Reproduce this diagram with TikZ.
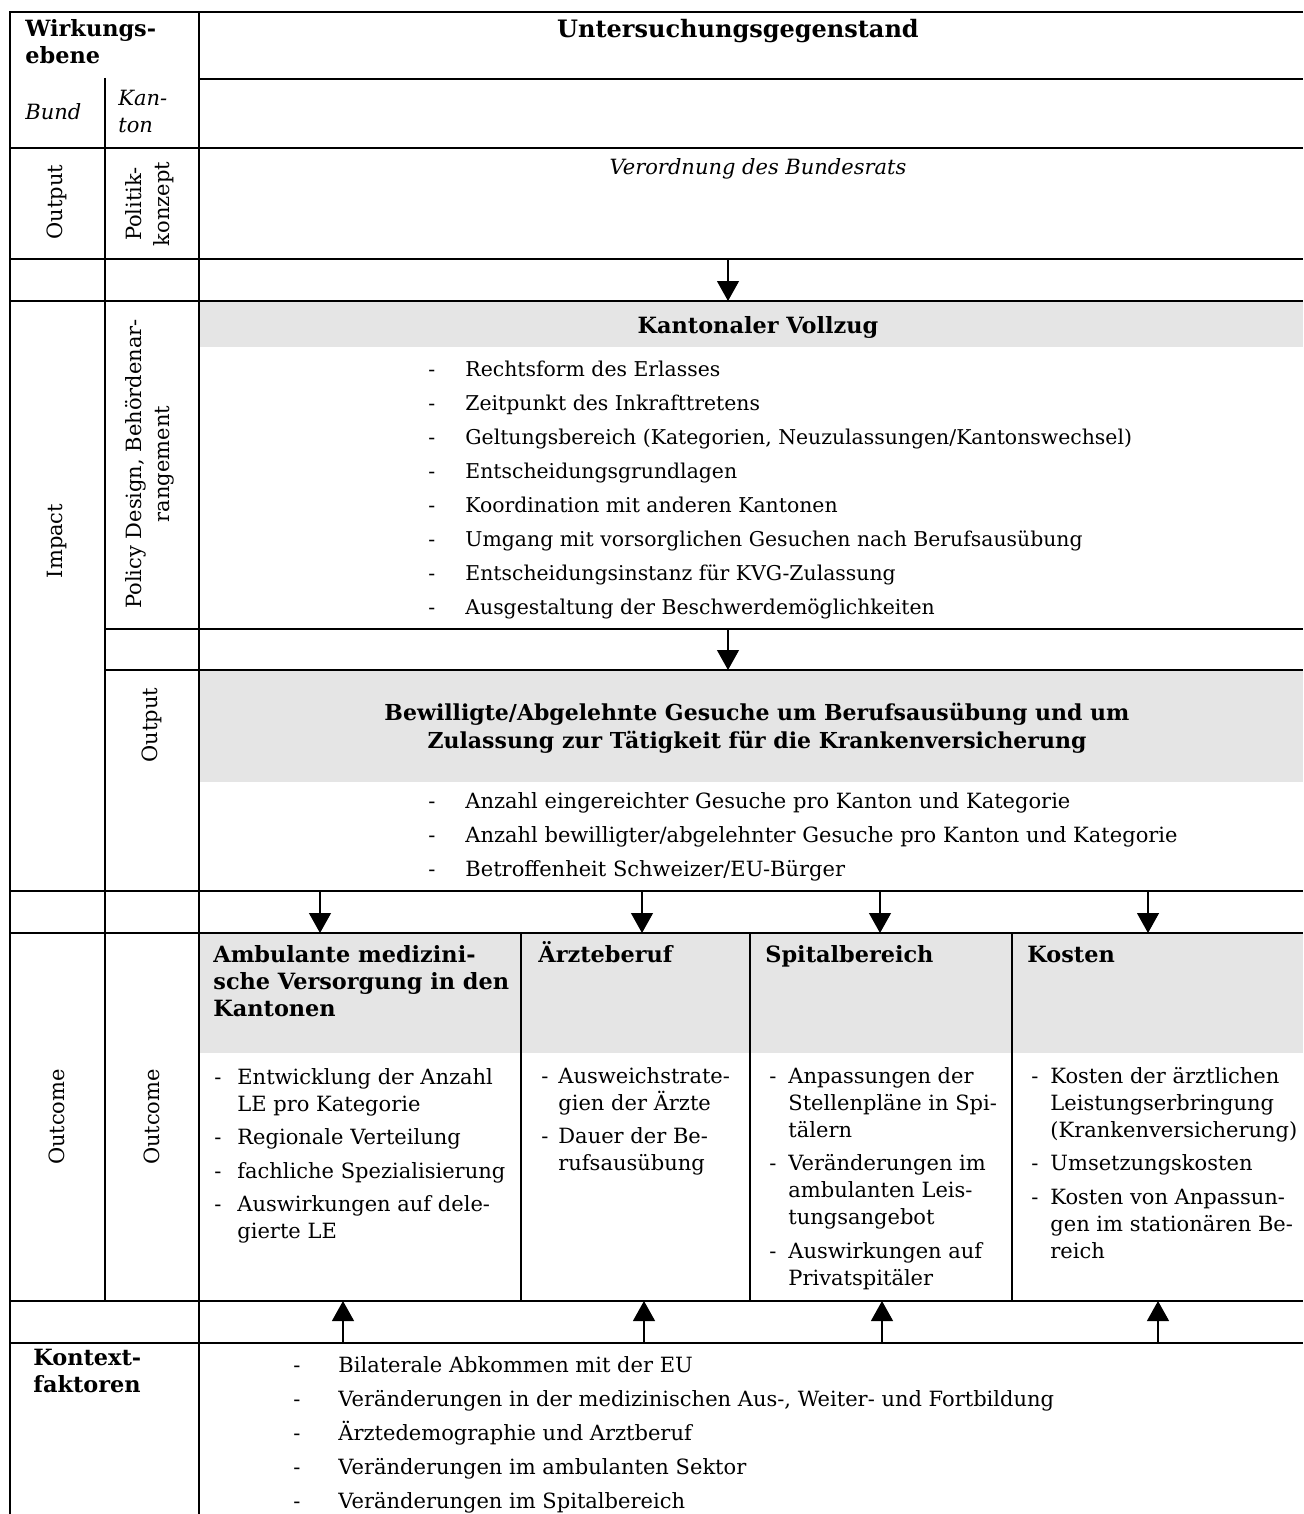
\documentclass[tikz,border=0pt]{standalone}
\usepackage{fontspec}
\setmainfont{DejaVu Serif}
\usetikzlibrary{arrows.meta}

% stacked lines, baseline at the first line
\newcommand\stk[2][l]{\begin{tabular}[t]{@{}#1@{}}#2\end{tabular}}
% list with dash column of width #1
\newcommand\dashlist[2]{\begin{tabular}[t]{@{}p{#1}@{}l@{}}#2\end{tabular}}

\begin{document}
\begin{tikzpicture}[x=0.5pt, y=-0.5pt,
    rule/.style={line width=1pt},
    band/.style={fill=black!10, draw=none, inner sep=0pt, anchor=north west},
    arr/.style={line width=0.6pt, -{Triangle[width=11pt,length=10pt]}},
    txt/.style={inner sep=0pt, anchor=base west, font=\fontsize{10.5}{13.5}\selectfont},
    ctxt/.style={txt, anchor=base},
    hd/.style={txt, font=\fontsize{11.2}{13.5}\selectfont\bfseries},
    chd/.style={hd, anchor=base},
    rot/.style={inner sep=0pt, rotate=90, align=center, font=\fontsize{10.5}{14}\selectfont},
    bigl/.style={txt, font=\fontsize{10.5}{17}\selectfont}]
  \useasboundingbox (0,0) rectangle (1303,1514);

  % grey bands
  \node[band, minimum width=552pt, minimum height=23pt] (vollzug) at (199,301) {};
  \node[band, minimum width=552pt, minimum height=56pt] (gesuche) at (199,670) {};
  \node[band, minimum width=161pt, minimum height=60pt] (ambulant) at (199,933) {};
  \node[band, minimum width=114.5pt, minimum height=60pt] (aerzte) at (521,933) {};
  \node[band, minimum width=131pt, minimum height=60pt] (spital) at (750,933) {};
  \node[band, minimum width=145.5pt, minimum height=60pt] (kosten) at (1012,933) {};

  % table rules
  \draw[rule] (1303,12) -- (10,12) -- (10,1514);
  \draw[rule] (199,12) -- (199,1514);
  \draw[rule] (105,78) -- (105,1301);
  \draw[rule] (199,79) -- (1303,79);
  \foreach \y in {148,259,301,891,933,1301,1343}
    \draw[rule] (10,\y) -- (1303,\y);
  \foreach \y in {629,670}
    \draw[rule] (105,\y) -- (1303,\y);
  \foreach \x in {521,750,1012}
    \draw[rule] (\x,933) -- (\x,1301);

  % left columns
  \node[hd] (wirkung) at (25,37) {\stk{Wirkungs-\\ebene}};
  \node[txt] (bund) at (25,120) {\itshape Bund};
  \node[txt] (kanton) at (118,106) {\itshape\stk{Kan-\\ton}};
  \node[rot] (outbund) at (57,202) {Output};
  \node[rot] (konzept) at (150,204) {Politik-\\konzept};
  \node[rot] (impact) at (57,541) {Impact};
  \node[rot] (design) at (150,464) {Policy Design, Behördenar-\\rangement};
  \node[rot] (outkanton) at (152,725) {Output};
  \node[rot] (outcbund) at (57,1117) {Outcome};
  \node[rot] (outckanton) at (152,1117) {Outcome};
  \node[hd] (kontext) at (33,1365) {\stk{Kontext-\\faktoren}};

  % main column
  \node[chd, font=\fontsize{12}{14}\selectfont\bfseries] (gegenstand) at (738,38) {Untersuchungsgegenstand};
  \node[ctxt] (verordnung) at (758,175) {\itshape Verordnung des Bundesrats};
  \node[chd] (vollzugtxt) at (758,333) {Kantonaler Vollzug};
  \node[bigl, font=\fontsize{10.2}{17}\selectfont] (vollzuglist) at (428,376) {\dashlist{18.5pt}{%
    - & Rechtsform des Erlasses\\
    - & Zeitpunkt des Inkrafttretens\\
    - & Geltungsbereich (Kategorien, Neuzulassungen/Kantonswechsel)\\
    - & Entscheidungsgrundlagen\\
    - & Koordination mit anderen Kantonen\\
    - & Umgang mit vorsorglichen Gesuchen nach Berufsausübung\\
    - & Entscheidungsinstanz für KVG-Zulassung\\
    - & Ausgestaltung der Beschwerdemöglichkeiten}};
  \node[chd, font=\fontsize{11}{14}\selectfont\bfseries] (gesuchetxt) at (757,720) {\stk[c]{Bewilligte/Abgelehnte Gesuche um Berufsausübung und um\\
    Zulassung zur Tätigkeit für die Krankenversicherung}};
  \node[bigl] (gesuchelist) at (428,808) {\dashlist{18.5pt}{%
    - & Anzahl eingereichter Gesuche pro Kanton und Kategorie\\
    - & Anzahl bewilligter/abgelehnter Gesuche pro Kanton und Kategorie\\
    - & Betroffenheit Schweizer/EU-Bürger}};

  % outcome columns
  \node[hd] (ambulanttxt) at (213,962) {\stk{Ambulante medizini-\\sche Versorgung in den\\Kantonen}};
  \node[hd] (aerztetxt) at (538,962) {Ärzteberuf};
  \node[hd] (spitaltxt) at (765,962) {Spitalbereich};
  \node[hd] (kostentxt) at (1027,962) {Kosten};
  \node[txt] (ambulantlist) at (214,1084) {\dashlist{11.5pt}{%
    - & Entwicklung der Anzahl\\ & LE pro Kategorie\\[3.25pt]
    - & Regionale Verteilung\\[3.25pt]
    - & fachliche Spezialisierung\\[3.25pt]
    - & Auswirkungen auf dele-\\ & gierte LE}};
  \node[txt] (aerztelist) at (541,1083) {\dashlist{8.5pt}{%
    - & Ausweichstrate-\\ & gien der Ärzte\\[3.25pt]
    - & Dauer der Be-\\ & rufsausübung}};
  \node[txt] (spitallist) at (769,1083) {\dashlist{9.5pt}{%
    - & Anpassungen der\\ & Stellenpläne in Spi-\\ & tälern\\[3.25pt]
    - & Veränderungen im\\ & ambulanten Leis-\\ & tungsangebot\\[3.25pt]
    - & Auswirkungen auf\\ & Privatspitäler}};
  \node[txt] (kostenlist) at (1031,1083) {\dashlist{9.5pt}{%
    - & Kosten der ärztlichen\\ & Leistungserbringung\\ & (Krankenversicherung)\\[3.25pt]
    - & Umsetzungskosten\\[3.25pt]
    - & Kosten von Anpassun-\\ & gen im stationären Be-\\ & reich}};

  % context factors
  \node[bigl] (kontextlist) at (293,1372) {\dashlist{22.5pt}{%
    - & Bilaterale Abkommen mit der EU\\
    - & Veränderungen in der medizinischen Aus-, Weiter- und Fortbildung\\
    - & Ärztedemographie und Arztberuf\\
    - & Veränderungen im ambulanten Sektor\\
    - & Veränderungen im Spitalbereich}};

  % arrows
  \coordinate (d1) at (728,259);
  \draw[arr] (d1) -- (d1 |- vollzug.north);
  \coordinate (d2) at (728,629);
  \draw[arr] (d2) -- (d2 |- gesuche.north);
  \foreach \x/\n in {320/ambulant, 642/aerzte, 880/spital, 1148/kosten} {
    \coordinate (t\n) at (\x,891);
    \draw[arr] (t\n) -- (t\n |- \n.north);
  }
  \foreach \x/\n in {343/ambulant, 644/aerzte, 882/spital, 1158/kosten} {
    \coordinate (k\n) at (\x,1343);
    \coordinate (o\n) at (\x,1301);
    \draw[arr] (k\n) -- (o\n);
  }
\end{tikzpicture}
\end{document}
